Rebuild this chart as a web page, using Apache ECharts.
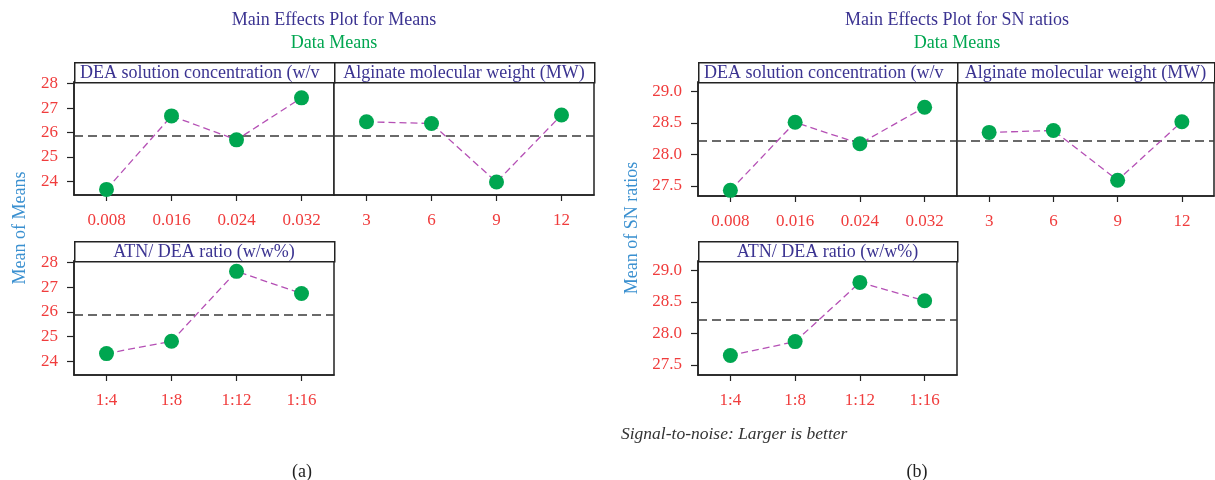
<!DOCTYPE html>
<html>
<head>
<meta charset="utf-8">
<script src="https://cdn.jsdelivr.net/npm/echarts@6/dist/echarts.min.js"></script>
<style>
  html, body { margin: 0; padding: 0; background: #fff; }
  #chart { width: 1215px; height: 480px; }
</style>
</head>
<body>
<div id="chart"></div>
<script>
// factor levels
const catDEA = ['0.008', '0.016', '0.024', '0.032'];
const catMW = ['3', '6', '9', '12'];
const catATN = ['1:4', '1:8', '1:12', '1:16'];

// (a) mean of means
const meansDEA = [23.67, 26.68, 25.70, 27.42];
const meansMW = [26.44, 26.37, 23.97, 26.72];
const meansATN = [24.31, 24.81, 27.65, 26.75];
const meansGrand = 25.87;
const meansTicks = [24, 25, 26, 27, 28];
const meansRange = [23.44, 28.07];

// (b) mean of SN ratios
const snDEA = [27.43, 28.51, 28.17, 28.75];
const snMW = [28.35, 28.38, 27.59, 28.52];
const snATN = [27.65, 27.87, 28.81, 28.52];
const snGrand = 28.21;
const snTicks = [27.5, 28.0, 28.5, 29.0];
const snRange = [27.34, 29.15];

const FONT = '"Liberation Serif", "DejaVu Serif", serif';
const RED = '#f03c3c';
const PURPLE = '#3b3391';
const GREEN = '#00a650';
const BLUE = '#3a90d0';
const LINE = '#222';

const HEAD_TOP = 62, HEAD_H = 20;

const panels = [
  { left: 74, top: 82, width: 260, height: 113, cats: catDEA, data: meansDEA, ticks: meansTicks, range: meansRange, grand: meansGrand, showY: true, head: 'DEA solution concentration (w/v%)', fmt: v => String(v) },
  { left: 334, top: 82, width: 260, height: 113, cats: catMW, data: meansMW, ticks: meansTicks, range: meansRange, grand: meansGrand, showY: false, head: 'Alginate molecular weight (MW)', fmt: v => String(v) },
  { left: 74, top: 261, width: 260, height: 114, cats: catATN, data: meansATN, ticks: meansTicks, range: meansRange, grand: meansGrand, showY: true, head: 'ATN/ DEA ratio (w/w%)', fmt: v => String(v) },
  { left: 698, top: 82, width: 259, height: 114, cats: catDEA, data: snDEA, ticks: snTicks, range: snRange, grand: snGrand, showY: true, head: 'DEA solution concentration (w/v%)', fmt: v => v.toFixed(1) },
  { left: 957, top: 82, width: 257, height: 114, cats: catMW, data: snMW, ticks: snTicks, range: snRange, grand: snGrand, showY: false, head: 'Alginate molecular weight (MW)', fmt: v => v.toFixed(1) },
  { left: 698, top: 261, width: 259, height: 114, cats: catATN, data: snATN, ticks: snTicks, range: snRange, grand: snGrand, showY: true, head: 'ATN/ DEA ratio (w/w%)', fmt: v => v.toFixed(1) }
];

const grids = [], xAxes = [], yAxes = [], series = [], graphics = [];

panels.forEach((p, i) => {
  grids.push({
    left: p.left, top: p.top, width: p.width, height: p.height,
    show: true, borderColor: LINE, borderWidth: 1.5, backgroundColor: '#fff'
  });
  xAxes.push({
    type: 'category', gridIndex: i, data: p.cats, boundaryGap: true,
    axisLine: { show: true, lineStyle: { color: LINE, width: 1.5 } },
    axisTick: { show: true, alignWithLabel: true, length: 6, lineStyle: { color: LINE, width: 1.2 } },
    axisLabel: { color: RED, fontFamily: FONT, fontSize: 17, margin: 17 },
    splitLine: { show: false }
  });
  yAxes.push({
    type: 'value', gridIndex: i, min: p.range[0], max: p.range[1], show: p.showY,
    axisLine: { show: true, lineStyle: { color: LINE, width: 1.5 } },
    axisTick: { show: true, length: 7, customValues: p.ticks, lineStyle: { color: LINE, width: 1.2 } },
    axisLabel: { color: RED, fontFamily: FONT, fontSize: 17, margin: 16, customValues: p.ticks, formatter: p.fmt },
    splitLine: { show: false }
  });
  series.push({
    type: 'line', xAxisIndex: i, yAxisIndex: i, data: p.data,
    symbol: 'circle', symbolSize: 15,
    itemStyle: { color: GREEN },
    lineStyle: { color: '#b550b5', width: 1.3, type: [7, 4] },
    z: 5,
    markLine: {
      silent: true, symbol: 'none', label: { show: false },
      lineStyle: { color: '#3a3a3a', width: 1.6, type: [9, 5] },
      data: [{ yAxis: p.grand }],
      z: 3
    }
  });
  // panel header strip
  const headTop = HEAD_TOP + (i === 2 || i === 5 ? 179 : 0);
  graphics.push({
    type: 'rect', left: p.left, top: headTop,
    shape: { width: p.width, height: HEAD_H },
    style: { fill: '#fff', stroke: LINE, lineWidth: 1.5 }
  });
  const long = p.head.length > 30;
  graphics.push({
    type: 'text',
    x: long ? p.left + 6 : p.left + p.width / 2,
    y: headTop + HEAD_H / 2 + 1,
    style: {
      text: p.head, fill: PURPLE, font: '18px ' + FONT,
      align: long ? 'left' : 'center', verticalAlign: 'middle',
      width: p.width - 8, overflow: 'truncate', ellipsis: ''
    }
  });
});

const texts = [
  { x: 334, y: 20, text: 'Main Effects Plot for Means', fill: PURPLE, font: '18px ' + FONT },
  { x: 334, y: 43, text: 'Data Means', fill: GREEN, font: '18px ' + FONT },
  { x: 957, y: 20, text: 'Main Effects Plot for SN ratios', fill: PURPLE, font: '18px ' + FONT },
  { x: 957, y: 43, text: 'Data Means', fill: GREEN, font: '18px ' + FONT },
  { x: 302, y: 472, text: '(a)', fill: '#222', font: '18px ' + FONT },
  { x: 917, y: 472, text: '(b)', fill: '#222', font: '18px ' + FONT }
];
texts.forEach(t => graphics.push({
  type: 'text', x: t.x, y: t.y,
  style: { text: t.text, fill: t.fill, font: t.font, align: 'center', verticalAlign: 'middle' }
}));

graphics.push({
  type: 'text', x: 621, y: 434,
  style: { text: 'Signal-to-noise: Larger is better', fill: '#333', font: 'italic 17.5px ' + FONT, align: 'left', verticalAlign: 'middle' }
});
// y axis titles
[[20, 'Mean of Means'], [632, 'Mean of SN ratios']].forEach(([x, label]) => graphics.push({
  type: 'text', x: x, y: 228, rotation: Math.PI / 2,
  style: { text: label, fill: BLUE, font: '18px ' + FONT, align: 'center', verticalAlign: 'middle' }
}));

const chart = echarts.init(document.getElementById('chart'), null, { renderer: 'canvas' });
chart.setOption({
  animation: false,
  backgroundColor: '#fff',
  grid: grids,
  xAxis: xAxes,
  yAxis: yAxes,
  series: series,
  graphic: graphics
});
</script>
</body>
</html>
